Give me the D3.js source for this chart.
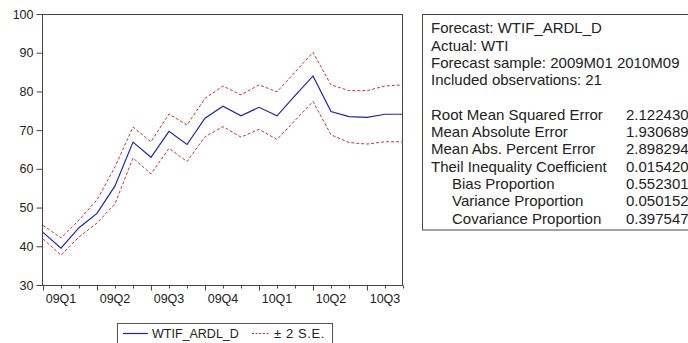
<!DOCTYPE html>
<html>
<head>
<meta charset="utf-8">
<script src="https://cdn.jsdelivr.net/npm/d3@7"></script>
<style>
  body { margin: 0; background: #fff; }
  svg { display: block; font-family: "Liberation Sans", Arial, sans-serif; }
</style>
</head>
<body>
<svg id="chart" width="688" height="343"></svg>
<script>
// monthly forecast, 2009M01 .. 2010M09
var months = ['2009M01','2009M02','2009M03','2009M04','2009M05','2009M06','2009M07',
              '2009M08','2009M09','2009M10','2009M11','2009M12','2010M01','2010M02',
              '2010M03','2010M04','2010M05','2010M06','2010M07','2010M08','2010M09'];
var forecast = [43.6, 39.5, 44.8, 48.5, 55.6, 66.9, 63.0, 69.7, 66.3, 73.1, 76.2,
                73.7, 75.9, 73.7, 78.9, 84.0, 74.8, 73.5, 73.3, 74.1, 74.1];
var upper = [45.4, 42.2, 46.8, 52.0, 60.5, 70.8, 67.0, 74.2, 71.3, 78.2, 81.4,
             79.1, 81.7, 79.9, 85.0, 90.1, 81.7, 80.2, 80.2, 81.4, 81.7];
var lower = [41.9, 37.7, 42.4, 46.0, 51.0, 62.8, 58.7, 65.3, 61.9, 68.3, 70.9,
             68.2, 70.2, 67.6, 72.5, 77.4, 68.8, 66.8, 66.4, 67.0, 67.0];
var quarterLabels = ['09Q1','09Q2','09Q3','09Q4','10Q1','10Q2','10Q3'];
var yTicks = [30, 40, 50, 60, 70, 80, 90, 100];

var headerLines = ['Forecast: WTIF_ARDL_D', 'Actual: WTI',
                   'Forecast sample: 2009M01 2010M09', 'Included observations: 21'];
var statNames = ['Root Mean Squared Error', 'Mean Absolute Error', 'Mean Abs. Percent Error',
                 'Theil Inequality Coefficient', 'Bias Proportion', 'Variance Proportion',
                 'Covariance Proportion'];
var statIndent = [false, false, false, false, true, true, true];
var statValues = ['2.122430', '1.930689', '2.898294', '0.015420', '0.552301', '0.050152', '0.397547'];

var svg = d3.select('#chart');
var plotL = 42.5, plotR = 402.5, plotT = 14.5, plotB = 285.5;

var x = d3.scaleLinear().domain([0, months.length - 1]).range([43, 403]);
var y = d3.scaleLinear().domain([30, 100]).range([285, 14]);

// frame
svg.append('rect')
    .attr('x', plotL).attr('y', plotT)
    .attr('width', plotR - plotL).attr('height', plotB - plotT)
    .attr('fill', 'none').attr('stroke', '#444').attr('stroke-width', 1);

// y axis
var yAxis = d3.axisLeft(y).tickValues(yTicks).tickSize(6).tickPadding(3);
var gy = svg.append('g').attr('transform', 'translate(' + plotL + ',0)').call(yAxis);
gy.select('.domain').remove();
gy.selectAll('line').attr('stroke', '#444');
gy.selectAll('text').attr('font-size', 12.5).attr('fill', '#222')
    .attr('font-family', '"Liberation Sans", Arial, sans-serif');

// x axis: month ticks, longer at quarter starts, labels on the middle month
var gx = svg.append('g').attr('transform', 'translate(0,' + plotB + ')');
gx.selectAll('line').data(d3.range(months.length)).enter().append('line')
    .attr('x1', function(d) { return Math.round(x(d)) + 0.5; })
    .attr('x2', function(d) { return Math.round(x(d)) + 0.5; })
    .attr('y1', 0)
    .attr('y2', function(d) { return d % 3 === 0 ? 5 : 3; })
    .attr('stroke', '#444');
gx.selectAll('text').data(quarterLabels).enter().append('text')
    .attr('x', function(d, i) { return x(i * 3 + 1); })
    .attr('y', 17.5)
    .attr('text-anchor', 'middle')
    .attr('font-size', 12.5).attr('fill', '#222')
    .text(function(d) { return d; });

// series
var line = d3.line().x(function(d, i) { return x(i); }).y(function(d) { return y(d); });

[upper, lower].forEach(function(s) {
    svg.append('path').datum(s)
        .attr('d', line)
        .attr('fill', 'none')
        .attr('stroke', '#d03030')
        .attr('stroke-width', 1)
        .attr('stroke-dasharray', '3,2');
});
svg.append('path').datum(forecast)
    .attr('d', line)
    .attr('fill', 'none')
    .attr('stroke', '#2020b8')
    .attr('stroke-width', 1.2);

// legend
var lg = svg.append('g');
lg.append('rect').attr('x', 117.5).attr('y', 323.5).attr('width', 215).attr('height', 24)
    .attr('fill', 'none').attr('stroke', '#555');
lg.append('line').attr('x1', 123).attr('x2', 148).attr('y1', 333.5).attr('y2', 333.5)
    .attr('stroke', '#2020b8').attr('stroke-width', 1.2);
lg.append('text').attr('x', 152).attr('y', 338).attr('font-size', 12.5).attr('fill', '#222')
    .text('WTIF_ARDL_D');
lg.append('line').attr('x1', 252).attr('x2', 270).attr('y1', 333.5).attr('y2', 333.5)
    .attr('stroke', '#d03030').attr('stroke-dasharray', '2,1.6');
lg.append('text').attr('x', 274).attr('y', 338).attr('font-size', 13).attr('fill', '#222')
    .attr('letter-spacing', 0.6)
    .text('\u00b1 2 S.E.');

// statistics box
var lineH = 17.3, base0 = 33.3;
var box = svg.append('g');
box.append('rect').attr('x', 422.5).attr('y', 14.5).attr('width', 300).attr('height', 215.5)
    .attr('fill', 'none').attr('stroke', '#444');
box.selectAll('text.hdr').data(headerLines).enter().append('text')
    .attr('class', 'hdr')
    .attr('x', 431)
    .attr('y', function(d, i) { return base0 + i * lineH; })
    .attr('font-size', 15).attr('fill', '#222')
    .text(function(d) { return d; });
box.selectAll('text.stat').data(statNames).enter().append('text')
    .attr('class', 'stat')
    .attr('x', function(d, i) { return statIndent[i] ? 452 : 431; })
    .attr('y', function(d, i) { return base0 + (i + 5) * lineH; })
    .attr('font-size', 15).attr('fill', '#222')
    .text(function(d) { return d; });
box.selectAll('text.val').data(statValues).enter().append('text')
    .attr('class', 'val')
    .attr('x', 626)
    .attr('y', function(d, i) { return base0 + (i + 5) * lineH; })
    .attr('font-size', 15).attr('fill', '#222')
    .text(function(d) { return d; });
</script>
</body>
</html>
